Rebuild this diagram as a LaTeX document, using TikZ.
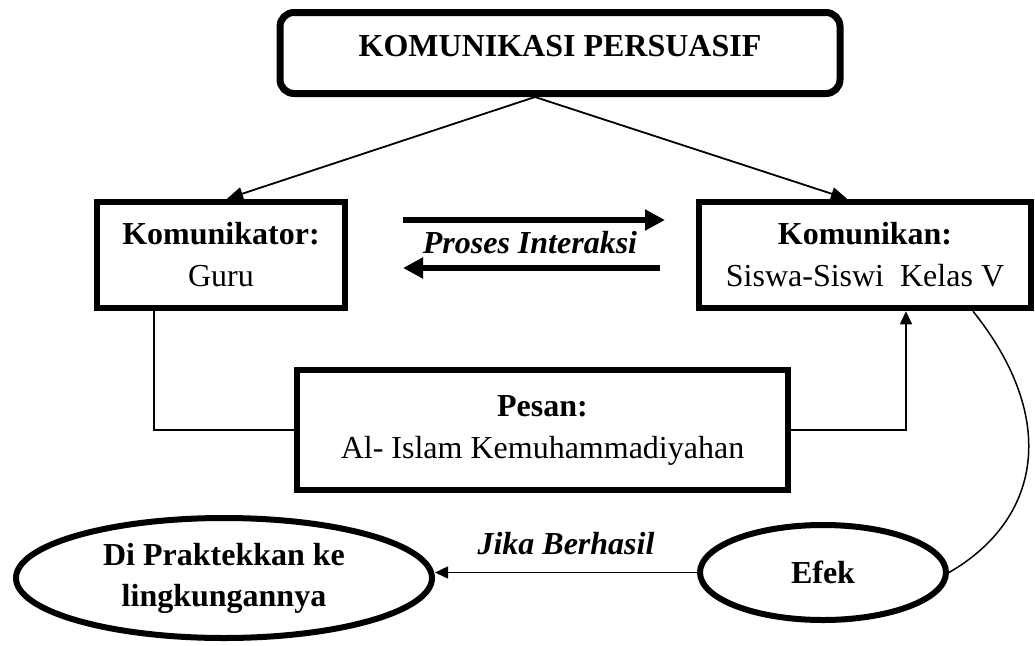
\documentclass[tikz,border=0pt]{standalone}
\usepackage{fontspec}
\setmainfont{Liberation Serif}
\usetikzlibrary{arrows.meta,shapes.geometric,calc}
\begin{document}
\begin{tikzpicture}[x=1pt,y=-1pt,
  thickbox/.style={draw, line width=6.5pt, inner sep=0pt, align=center, font=\fontsize{32}{42}\selectfont},
  oval/.style={draw, ellipse, line width=6pt, inner sep=0pt, align=center, font=\fontsize{32}{41}\selectfont\bfseries},
  conn/.style={line width=1.5pt},
  connarrow/.style={line width=1.5pt, -{Triangle[length=13pt,width=12pt]}},
  toparrow/.style={line width=1.8pt, -{Triangle[length=16pt,width=13pt]}},
  bigarrow/.style={line width=6pt, -{Triangle[length=20pt,width=20pt]}},
  lbl/.style={font=\fontsize{32}{38}\selectfont\bfseries\itshape, inner sep=0pt}
]
\useasboundingbox (0,0) rectangle (1035,645);

% top box
\node[thickbox, line width=7pt, rounded corners=14pt, minimum width=560pt, minimum height=81pt, text depth=14pt, font=\fontsize{32}{42}\selectfont\bfseries] (top) at (560,53) {KOMUNIKASI PERSUASIF};

\node[thickbox, minimum width=248pt, minimum height=106pt] (kor) at (221,255) {\textbf{Komunikator:}\\Guru};
\node[thickbox, minimum width=332pt, minimum height=106pt] (kan) at (865,255) {\textbf{Komunikan:}\\Siswa-Siswi\ \ Kelas V};
\node[thickbox, line width=6pt, minimum width=491pt, minimum height=120pt] (pesan) at (542.5,430) {\textbf{Pesan:}\\Al- Islam Kemuhammadiyahan};

\node[oval, minimum width=416pt, minimum height=120pt] (prak) at (224,578) {Di Praktekkan ke\\lingkungannya};
\node[oval, minimum width=246pt, minimum height=95pt] (efek) at (823,572.5) {Efek};

% top arrows
\coordinate (apex) at (535,97);
\draw[toparrow] (apex) -- ($(kor.north)+(6,0)$);
\draw[toparrow] (apex) -- ($(kan.north)+(-18,0)$);

% Proses Interaksi
\node[lbl] (proses) at (530,243) {Proses Interaksi};
\coordinate (pa1) at (403,220);
\coordinate (pa2) at (665,220);
\coordinate (pb1) at (660,268);
\coordinate (pb2) at (403,268);
\draw[bigarrow] (pa1) -- (pa2);
\draw[bigarrow] (pb1) -- (pb2);

% connectors via Pesan
\coordinate (korout) at ($(kor.south)+(-67,0)$);
\coordinate (kanin) at ($(kan.south)+(41,0)$);
\draw[conn] (korout) |- (pesan.west);
\draw[connarrow] (pesan.east) -| (kanin);

% curve to Efek
\coordinate (kanout) at ($(kan.south)+(108,0)$);
\draw[conn] (kanout) .. controls (1060,420) and (1040,520) .. (efek.east);

% Efek to practice
\draw[connarrow] (efek.west) -- node[lbl, midway, yshift=29pt] (jika) {Jika Berhasil} (efek.west -| prak.east);
\end{tikzpicture}
\end{document}
